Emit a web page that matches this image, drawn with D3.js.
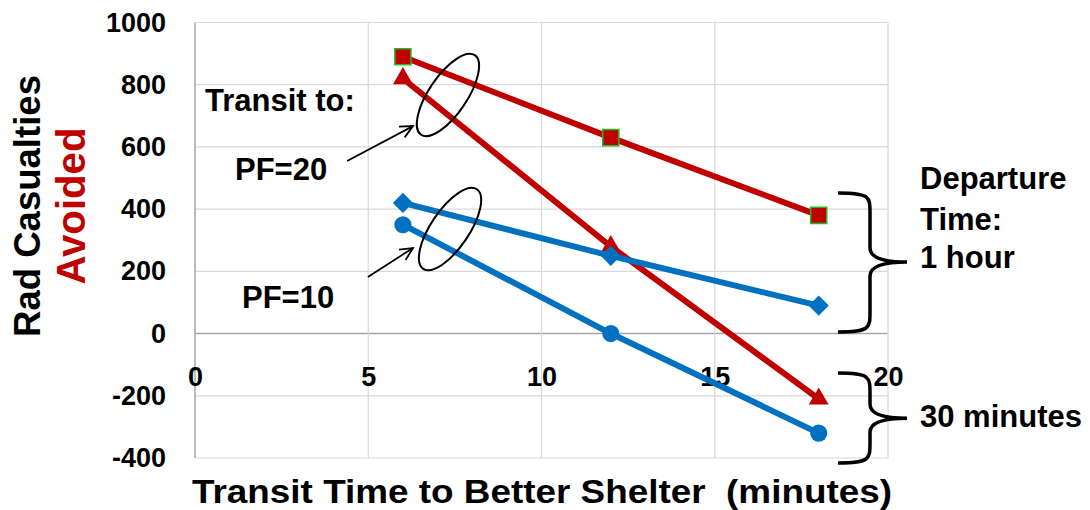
<!DOCTYPE html>
<html><head><meta charset="utf-8">
<script src="https://cdn.jsdelivr.net/npm/d3@7"></script>
<style>body{margin:0;background:#fff}svg{display:block}</style>
</head><body>
<svg id="c" width="1090" height="510"></svg>
<script>
// ---- data ----
const transitMinutes = [6, 12, 18];
const pf20_1hour = [890, 630, 380];    // red squares
const pf20_30min = [820, 280, -210];   // red triangles
const pf10_1hour = [420, 250, 90];     // blue diamonds
const pf10_30min = [350, 0, -320];     // blue circles
const xTicks = [0, 5, 10, 15, 20];
const yTicks = [-400, -200, 0, 200, 400, 600, 800, 1000];

const RED = "#c00000", BLUE = "#0070c0";
const FONT = "'Liberation Sans', Arial, sans-serif";

const svg = d3.select("#c");
svg.append("rect").attr("width",1090).attr("height",510).attr("fill","#fff");

const x = d3.scaleLinear().domain([0,20]).range([195,888]);
const y = d3.scaleLinear().domain([-400,1000]).range([458,22.5]);

// grid
const g = svg.append("g");
g.selectAll(".hg").data(yTicks).join("line")
  .attr("x1",x(0)).attr("x2",x(20)).attr("y1",d=>y(d)).attr("y2",d=>y(d))
  .attr("stroke",d=>d===0?"#a6a6a6":"#d9d9d9").attr("stroke-width",d=>d===0?1.5:1.2);
g.selectAll(".vg").data(xTicks).join("line")
  .attr("y1",y(-400)).attr("y2",y(1000)).attr("x1",d=>x(d)).attr("x2",d=>x(d))
  .attr("stroke",d=>d===0?"#a6a6a6":"#d9d9d9").attr("stroke-width",d=>d===0?1.5:1.2);

// axes
const ya = svg.append("g").attr("transform",`translate(${x(0)},0)`)
  .call(d3.axisLeft(y).tickValues(yTicks).tickSize(0).tickPadding(29).tickFormat(d=>String(d)));
ya.select(".domain").remove();
ya.selectAll("text").attr("font-family",FONT).attr("font-size",27).attr("font-weight","bold").attr("fill","#000");

const xa = svg.append("g").attr("transform",`translate(0,${y(0)})`)
  .call(d3.axisBottom(x).tickValues(xTicks).tickSize(0).tickPadding(33).tickFormat(d=>String(d)));
xa.select(".domain").remove();
xa.selectAll("text").attr("font-family",FONT).attr("font-size",27).attr("font-weight","bold").attr("fill","#000");

// series
const series = [
  {vals: pf20_30min, color: RED, shape: "triangle"},
  {vals: pf20_1hour, color: RED, shape: "square"},
  {vals: pf10_1hour, color: BLUE, shape: "diamond"},
  {vals: pf10_30min, color: BLUE, shape: "circle"}
];
const line = d3.line().x(d=>x(d[0])).y(d=>y(d[1]));
series.forEach(s=>{
  const pts = transitMinutes.map((t,i)=>[t,s.vals[i]]);
  svg.append("path").attr("d",line(pts)).attr("fill","none")
    .attr("stroke",s.color).attr("stroke-width",6).attr("stroke-linejoin","round");
  const sym = {triangle:d3.symbolTriangle, square:d3.symbolSquare, diamond:d3.symbolDiamond2, circle:d3.symbolCircle}[s.shape];
  const size = {triangle:170, square:260, diamond:260, circle:230}[s.shape];
  svg.selectAll(null).data(pts).join("path")
    .attr("transform",d=>`translate(${x(d[0])},${y(d[1])})`)
    .attr("d",d3.symbol().type(sym).size(size))
    .attr("fill",s.color)
    .attr("stroke",s.shape==="square"?"#22bb22":"none").attr("stroke-width",1.5);
});

// annotations: ellipses + arrows (data units)
const ellipses = [[7.3,767],[7.36,336]];
svg.selectAll(null).data(ellipses).join("ellipse")
  .attr("transform",d=>`translate(${x(d[0])},${y(d[1])}) rotate(-56)`)
  .attr("rx",48).attr("ry",19).attr("fill","none").attr("stroke","#000").attr("stroke-width",2);

const arrows = [[[4.39,555],[6.29,667]],[[4.99,182],[6.29,275]]];
arrows.forEach(a=>{
  const x1=x(a[0][0]), y1=y(a[0][1]), x2=x(a[1][0]), y2=y(a[1][1]);
  const ang=Math.atan2(y2-y1,x2-x1), L=14, sp=0.45;
  svg.append("line").attr("x1",x1).attr("y1",y1).attr("x2",x2).attr("y2",y2)
    .attr("stroke","#000").attr("stroke-width",1.8);
  svg.append("path")
    .attr("d",`M${x2-L*Math.cos(ang-sp)},${y2-L*Math.sin(ang-sp)} L${x2},${y2} L${x2-L*Math.cos(ang+sp)},${y2-L*Math.sin(ang+sp)}`)
    .attr("fill","none").attr("stroke","#000").attr("stroke-width",1.8);
});

// braces
function brace(x0,xv,xt,y0,ym,y1){
  const r=20, r2=14;
  return `M${x0},${y0} C${xv},${y0} ${xv},${y0+4} ${xv},${y0+r} L${xv},${ym-r2} Q${xv},${ym} ${xt},${ym} Q${xv},${ym} ${xv},${ym+r2} L${xv},${y1-r} C${xv},${y1-4} ${xv},${y1} ${x0},${y1}`;
}
const braces = [[452,230,5],[-127,-272,-416]];
braces.forEach(b=>{
  svg.append("path").attr("d",brace(838,870,907,y(b[0]),y(b[1]),y(b[2])))
    .attr("fill","none").attr("stroke","#000").attr("stroke-width",3.5);
});

// texts
function txt(t,xx,yy,opt={}){
  const e=svg.append("text").attr("x",xx).attr("y",yy).text(t)
    .attr("font-family",FONT).attr("font-size",opt.size||31)
    .attr("font-weight",opt.weight||"bold").attr("fill",opt.fill||"#000");
  if(opt.anchor) e.attr("text-anchor",opt.anchor);
  if(opt.len) e.attr("textLength",opt.len).attr("lengthAdjust","spacingAndGlyphs");
  if(opt.rot) e.attr("transform",`rotate(-90,${xx},${yy})`);
  return e;
}
txt("Transit to:",205,111);
txt("PF=20",235,180);
txt("PF=10",242,308);
txt("Departure",920,189);
txt("Time:",920,230);
txt("1 hour",920,268);
txt("30 minutes",920,427);
txt("Transit Time to Better Shelter\u00a0 (minutes)",192,503,{size:34,len:700});
txt("Rad Casualties",40,206,{size:37,anchor:"middle",rot:true,len:262});
txt("Avoided",85,206,{size:40,fill:RED,anchor:"middle",rot:true,len:157});
</script>
</body></html>
